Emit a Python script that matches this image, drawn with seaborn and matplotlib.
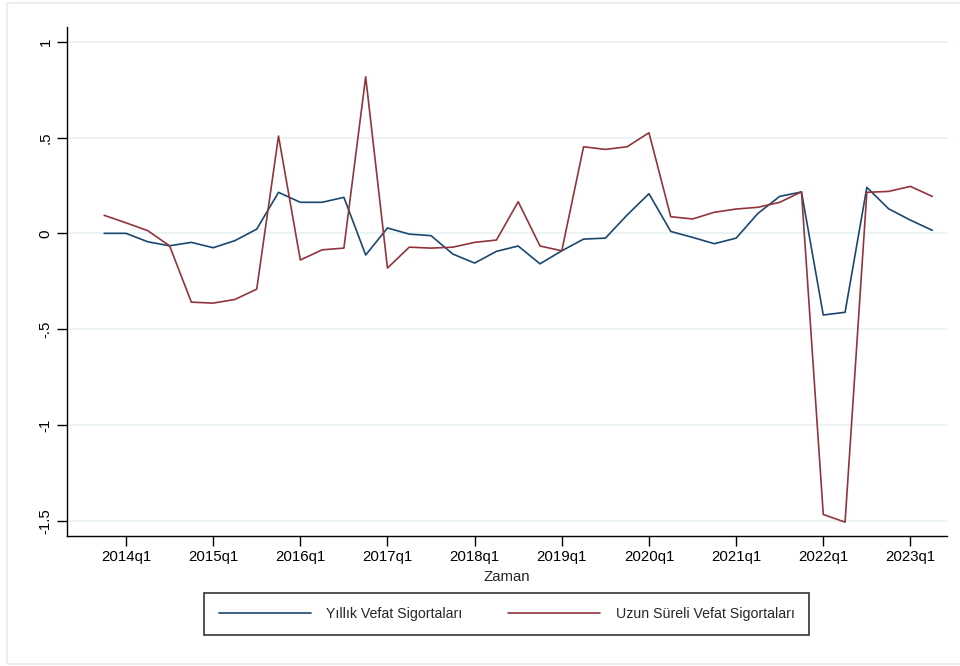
import numpy as np
import pandas as pd
import matplotlib
matplotlib.use("Agg")
import matplotlib.pyplot as plt
import seaborn as sns

# Quarterly series, 2013q4 .. 2023q2
quarters = [f"{y}q{q}" for y in range(2013, 2024) for q in range(1, 5)][3:-2]

yillik = [0.000, 0.000, -0.044, -0.065, -0.047, -0.075, -0.038, 0.022,
          0.214, 0.162, 0.162, 0.188, -0.113, 0.028, -0.004, -0.012,
          -0.108, -0.155, -0.094, -0.066, -0.159, -0.091, -0.030, -0.025,
          0.096, 0.207, 0.010, -0.021, -0.054, -0.025, 0.104, 0.193,
          0.216, -0.426, -0.412, 0.240, 0.128, 0.069, 0.016]

uzun = [0.094, 0.055, 0.014, -0.065, -0.359, -0.364, -0.345, -0.291,
        0.508, -0.139, -0.086, -0.077, 0.817, -0.181, -0.072, -0.077,
        -0.072, -0.047, -0.035, 0.165, -0.066, -0.091, 0.452, 0.438,
        0.452, 0.525, 0.087, 0.075, 0.110, 0.127, 0.136, 0.162,
        0.217, -1.467, -1.507, 0.214, 0.219, 0.245, 0.193]

series_names = ["Yıllık Vefat Sigortaları", "Uzun Süreli Vefat Sigortaları"]
tick_labels = [f"{y}q1" for y in range(2014, 2024)]
y_ticks = [1, 0.5, 0, -0.5, -1, -1.5]
y_tick_labels = ["1", ".5", "0", "-.5", "-1", "-1.5"]

# quarter index, 2014q1 = 0
t = np.arange(len(quarters)) - 1

df = pd.DataFrame({
    "t": np.concatenate([t, t]),
    "value": yillik + uzun,
    "seri": [series_names[0]] * len(t) + [series_names[1]] * len(t),
})

sns.set_theme(style="white")
plt.rcParams["font.family"] = ["Liberation Sans", "DejaVu Sans"]

fig = plt.figure(figsize=(9.6, 6.66), dpi=100)
fig.patch.set_facecolor("white")
ax = fig.add_axes([0.0695, 0.195, 0.917, 0.7645])

palette = {series_names[0]: "#1a476f", series_names[1]: "#90353b"}
sns.lineplot(data=df, x="t", y="value", hue="seri", palette=palette,
             linewidth=1.2, ax=ax, legend=False)

ax.set_xlim(-2.72, 37.68)
ax.set_ylim(-1.58, 1.077)

ax.set_xticks(np.arange(0, 40, 4))
ax.set_xticklabels(tick_labels, fontsize=10.8)
ax.set_yticks(y_ticks)
ax.set_yticklabels(y_tick_labels, fontsize=10.8, rotation=90, va="center")

ax.yaxis.grid(True, color="#eaf2f3", linewidth=1.3)
ax.xaxis.grid(False)
ax.set_axisbelow(True)

for side in ["top", "right"]:
    ax.spines[side].set_visible(False)
for side in ["left", "bottom"]:
    ax.spines[side].set_color("black")
    ax.spines[side].set_linewidth(1.0)

ax.tick_params(axis="both", direction="out", length=7, width=1.0,
               color="black", labelcolor="black", bottom=True, left=True)
ax.tick_params(axis="x", pad=3)
ax.tick_params(axis="y", pad=3)

ax.set_xlabel("Zaman", fontsize=10.8, labelpad=4)
ax.set_ylabel("")

# legend below the plot, two columns inside a black frame
handles = [plt.Line2D([], [], color=palette[n], linewidth=1.2) for n in series_names]
leg = fig.legend(handles, series_names, loc="center", ncol=2,
                 bbox_to_anchor=(506.5 / 960, 1 - 614 / 666),
                 frameon=True, fancybox=False, fontsize=10.2,
                 handlelength=6.5, handletextpad=1.1, columnspacing=3.2,
                 borderpad=1.0)
leg.get_frame().set_edgecolor("black")
leg.get_frame().set_linewidth(1.2)

# light outer frame of the graph region
fig.add_artist(plt.Rectangle((7 / 960, 2 / 666), 1.2, 661 / 666,
                             transform=fig.transFigure, fill=False,
                             edgecolor="#e6eef0", linewidth=1.2))

fig.savefig("out.png", dpi=100, facecolor="white")
